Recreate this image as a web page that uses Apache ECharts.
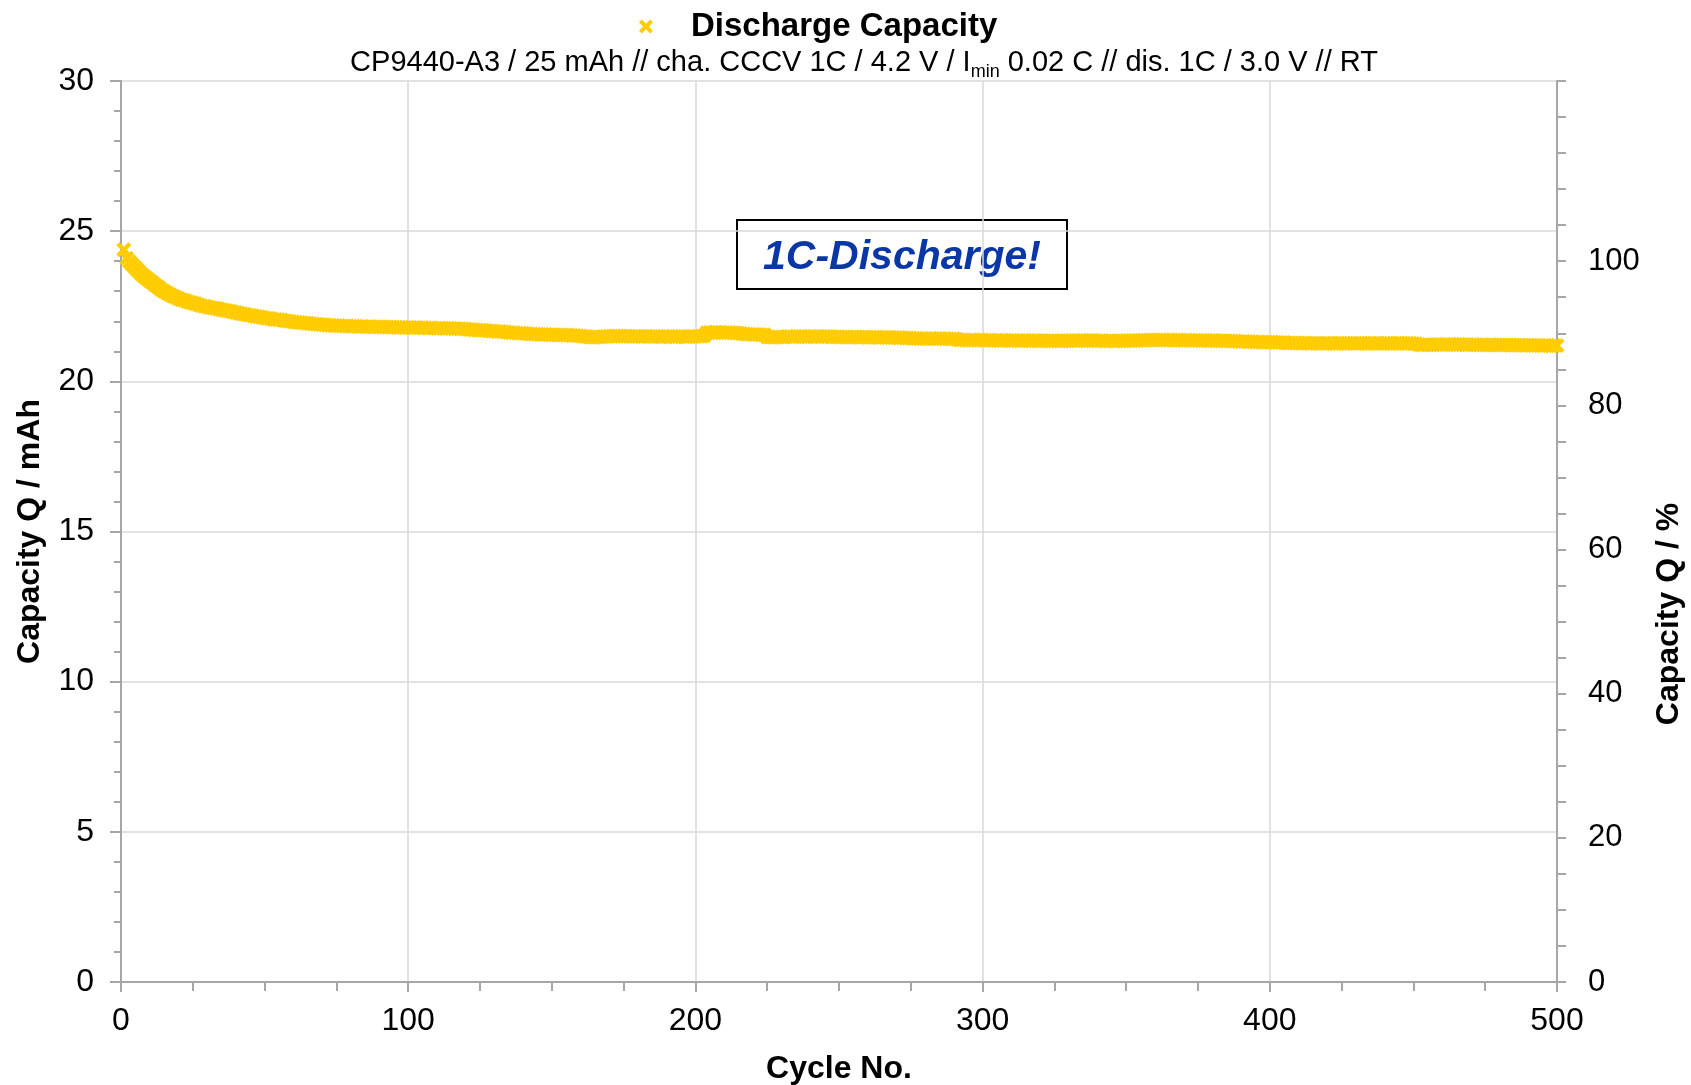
<!DOCTYPE html>
<html>
<head>
<meta charset="utf-8">
<script src="https://cdn.jsdelivr.net/npm/echarts@6/dist/echarts.min.js"></script>
<style>html,body{margin:0;padding:0;background:#fff}#c{width:1691px;height:1085px}</style>
</head>
<body>
<div id="c"></div>
<script>
// ---- data ----
const seriesName = 'Discharge Capacity';
const subtitleParts = ['CP9440-A3 / 25 mAh // cha. CCCV 1C / 4.2 V / I', 'min', ' 0.02 C // dis. 1C / 3.0 V // RT'];
const annotationText = '1C-Discharge!';
const xTicks = [0, 100, 200, 300, 400, 500];
const leftTicks = [0, 5, 10, 15, 20, 25, 30];
const rightTickLabels = [0, 20, 40, 60, 80, 100];
// discharge capacity (mAh) for cycles 1..500
const capacity = [
24.38,24.10,23.98,23.88,23.78,23.68,23.58,23.50,23.42,23.35,
23.28,23.20,23.13,23.06,23.00,22.94,22.89,22.84,22.80,22.76,
22.72,22.70,22.66,22.63,22.61,22.58,22.55,22.52,22.50,22.48,
22.46,22.44,22.43,22.41,22.38,22.37,22.35,22.33,22.31,22.29,
22.27,22.25,22.23,22.21,22.20,22.18,22.16,22.15,22.13,22.11,
22.10,22.09,22.07,22.06,22.05,22.04,22.02,22.01,21.99,21.98,
21.97,21.96,21.95,21.94,21.93,21.92,21.91,21.90,21.89,21.88,
21.88,21.87,21.86,21.86,21.85,21.85,21.84,21.84,21.84,21.83,
21.83,21.83,21.82,21.83,21.82,21.82,21.82,21.81,21.82,21.82,
21.81,21.81,21.80,21.81,21.80,21.80,21.79,21.80,21.79,21.79,
21.79,21.78,21.79,21.78,21.78,21.78,21.77,21.78,21.77,21.77,
21.77,21.77,21.76,21.77,21.76,21.76,21.75,21.75,21.74,21.74,
21.73,21.73,21.71,21.71,21.70,21.70,21.69,21.68,21.68,21.67,
21.66,21.66,21.65,21.64,21.63,21.62,21.62,21.61,21.60,21.60,
21.59,21.58,21.58,21.57,21.57,21.56,21.56,21.56,21.55,21.55,
21.55,21.54,21.54,21.54,21.54,21.54,21.53,21.53,21.52,21.51,
21.50,21.49,21.48,21.47,21.47,21.48,21.48,21.49,21.49,21.50,
21.50,21.51,21.51,21.51,21.50,21.50,21.50,21.49,21.50,21.49,
21.49,21.49,21.50,21.49,21.49,21.49,21.49,21.48,21.49,21.49,
21.49,21.49,21.48,21.49,21.49,21.49,21.48,21.49,21.49,21.49,
21.50,21.50,21.52,21.62,21.63,21.63,21.64,21.63,21.63,21.62,
21.62,21.63,21.62,21.62,21.60,21.59,21.58,21.57,21.57,21.56,
21.56,21.56,21.55,21.55,21.48,21.47,21.47,21.48,21.48,21.48,
21.48,21.49,21.49,21.48,21.49,21.49,21.49,21.49,21.48,21.49,
21.49,21.49,21.49,21.48,21.49,21.49,21.49,21.48,21.48,21.48,
21.48,21.48,21.48,21.47,21.48,21.48,21.47,21.47,21.48,21.47,
21.47,21.47,21.47,21.46,21.47,21.47,21.47,21.46,21.46,21.45,
21.45,21.45,21.44,21.44,21.44,21.43,21.43,21.43,21.43,21.43,
21.42,21.43,21.42,21.42,21.43,21.42,21.42,21.42,21.41,21.42,
21.40,21.38,21.38,21.38,21.37,21.38,21.38,21.37,21.38,21.38,
21.37,21.37,21.37,21.36,21.37,21.36,21.36,21.37,21.36,21.36,
21.36,21.36,21.35,21.36,21.35,21.35,21.35,21.36,21.35,21.35,
21.35,21.35,21.34,21.35,21.35,21.35,21.34,21.35,21.35,21.35,
21.35,21.36,21.35,21.36,21.36,21.36,21.35,21.36,21.35,21.35,
21.35,21.35,21.34,21.35,21.35,21.34,21.35,21.35,21.34,21.35,
21.35,21.36,21.36,21.36,21.37,21.37,21.37,21.38,21.38,21.38,
21.38,21.38,21.38,21.37,21.38,21.38,21.37,21.38,21.37,21.37,
21.37,21.37,21.36,21.37,21.36,21.36,21.36,21.36,21.35,21.36,
21.35,21.35,21.35,21.35,21.34,21.35,21.34,21.34,21.33,21.33,
21.33,21.32,21.32,21.32,21.31,21.31,21.31,21.30,21.30,21.30,
21.30,21.29,21.29,21.29,21.29,21.28,21.28,21.28,21.28,21.28,
21.27,21.28,21.27,21.27,21.27,21.27,21.27,21.26,21.27,21.27,
21.27,21.27,21.26,21.27,21.27,21.27,21.26,21.27,21.27,21.27,
21.27,21.27,21.27,21.26,21.27,21.27,21.27,21.27,21.26,21.27,
21.27,21.27,21.26,21.27,21.27,21.27,21.26,21.27,21.27,21.26,
21.25,21.22,21.21,21.22,21.21,21.22,21.22,21.23,21.23,21.22,
21.23,21.23,21.23,21.23,21.22,21.23,21.23,21.22,21.22,21.22,
21.22,21.22,21.21,21.22,21.21,21.21,21.22,21.21,21.21,21.21,
21.21,21.21,21.21,21.20,21.21,21.20,21.21,21.20,21.20,21.20,
21.20,21.19,21.20,21.19,21.19,21.19,21.19,21.18,21.19,21.19
];
const nominalFor100Percent = 24; // mAh corresponding to 100 %

// ---- chart ----
const FONT = '"Liberation Sans", Arial, sans-serif';
const points = capacity.map((v, i) => [i + 1, v]);
const xPath = 'path://M0,2 L2,0 L5,3 L8,0 L10,2 L7,5 L10,8 L8,10 L5,7 L2,10 L0,8 L3,5 Z';
const axisGray = '#a6a6a6';
const gridGray = '#d9d9d9';

const chart = echarts.init(document.getElementById('c'), null, {renderer: 'canvas'});
const yMaxLeft = leftTicks[leftTicks.length - 1];
const option = {
  animation: false,
  backgroundColor: '#fff',
  textStyle: {fontFamily: FONT, color: '#000'},
  title: {
    text: '{a|' + subtitleParts[0] + '}{s|' + subtitleParts[1] + '}{a|' + subtitleParts[2] + '}',
    left: 859, top: 40, textAlign: 'center',
    textStyle: {
      fontWeight: 'normal',
      rich: {
        a: {fontFamily: FONT, fontSize: 29, fontWeight: 'normal', color: '#000', lineHeight: 36},
        s: {fontFamily: FONT, fontSize: 18, fontWeight: 'normal', color: '#000', lineHeight: 36, padding: [18, 0, 0, 0]}
      }
    }
  },
  legend: {
    data: [seriesName],
    left: 634, top: 5,
    itemWidth: 14, itemHeight: 14,
    icon: xPath,
    textStyle: {fontFamily: FONT, fontSize: 33, fontWeight: 'bold', color: '#000', padding: [0, 0, 0, 33]}
  },
  grid: {left: 121, right: 134, top: 81, bottom: 103, containLabel: false, outerBoundsMode: 'none'},
  xAxis: {
    type: 'value', min: xTicks[0], max: xTicks[xTicks.length - 1], interval: 100,
    name: 'Cycle No.', nameLocation: 'middle', nameGap: 71,
    nameTextStyle: {fontFamily: FONT, fontSize: 32, fontWeight: 'bold', color: '#000'},
    axisLine: {show: true, onZero: false, lineStyle: {color: axisGray, width: 2}},
    axisTick: {show: true, inside: false, length: 10, lineStyle: {color: axisGray, width: 2}},
    minorTick: {show: true, splitNumber: 4, length: 9, lineStyle: {color: axisGray, width: 2}},
    axisLabel: {fontFamily: FONT, fontSize: 32, color: '#000', margin: 23},
    splitLine: {show: true, lineStyle: {color: gridGray, width: 1.5}}
  },
  yAxis: [{
    type: 'value', min: leftTicks[0], max: yMaxLeft, interval: 5, position: 'left',
    name: 'Capacity Q / mAh', nameLocation: 'middle', nameGap: 75,
    nameTextStyle: {fontFamily: FONT, fontSize: 32, fontWeight: 'bold', color: '#000'},
    axisLine: {show: true, onZero: false, lineStyle: {color: axisGray, width: 2}},
    axisTick: {show: true, length: 11, lineStyle: {color: axisGray, width: 2}},
    minorTick: {show: true, splitNumber: 5, length: 7, lineStyle: {color: axisGray, width: 2}},
    axisLabel: {fontFamily: FONT, fontSize: 32, color: '#000', margin: 27},
    splitLine: {show: true, lineStyle: {color: gridGray, width: 1.5}}
  }, {
    type: 'value', min: 0, max: yMaxLeft / nominalFor100Percent * 100, interval: 5, position: 'right',
    axisLine: {show: true, onZero: false, lineStyle: {color: axisGray, width: 2}},
    axisTick: {show: true, length: 9, lineStyle: {color: axisGray, width: 2}},
    axisLabel: {
      fontFamily: FONT, fontSize: 31, color: '#000', margin: 31,
      formatter: v => rightTickLabels.indexOf(Math.round(v)) >= 0 && Math.abs(v - Math.round(v)) < 1e-6 ? String(Math.round(v)) : ''
    },
    splitLine: {show: false}
  }],
  series: [{
    name: seriesName, type: 'scatter', yAxisIndex: 0,
    symbol: xPath, symbolSize: 15,
    itemStyle: {color: '#FFCC00', opacity: 1},
    data: points, z: 5
  }],
  graphic: [
    {
      type: 'text', x: 1669, y: 614, rotation: Math.PI / 2,
      style: {text: 'Capacity Q / %', fontFamily: FONT, fontSize: 32, fontWeight: 'bold', fill: '#000', align: 'center', verticalAlign: 'middle'}
    },
    {
      type: 'group', x: 737, y: 220, z: 10,
      children: [
        {type: 'rect', shape: {x: 0, y: 0, width: 330, height: 69}, style: {fill: '#fff', stroke: '#000', lineWidth: 2}},
        {type: 'text', x: 165, y: 38, style: {text: annotationText, fontFamily: FONT, fontSize: 41, fontWeight: 'bold', fontStyle: 'italic', fill: '#0B36A6', align: 'center', verticalAlign: 'middle'}}
      ]
    }
  ]
};
chart.setOption(option);
</script>
</body>
</html>
